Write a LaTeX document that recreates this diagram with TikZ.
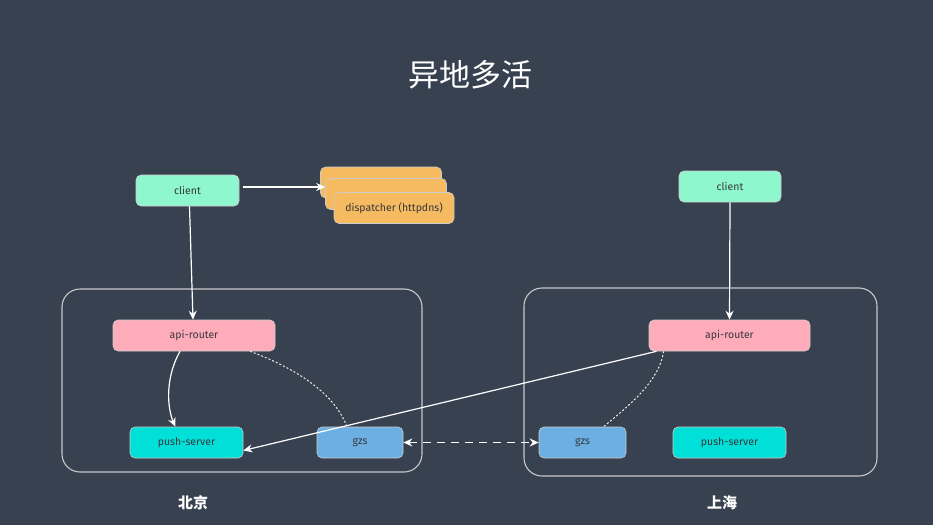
\documentclass[tikz,border=0pt]{standalone}
\usepackage{fontspec}
\setmainfont{Fira Sans}
\newfontfamily\cjk{Noto Sans CJK SC}
\usetikzlibrary{arrows.meta}
\definecolor{bg}{RGB}{56,65,80}
\definecolor{cgreen}{RGB}{142,247,205}
\definecolor{corange}{RGB}{246,186,96}
\definecolor{cpink}{RGB}{255,172,186}
\definecolor{ccyan}{RGB}{0,224,216}
\definecolor{cblue}{RGB}{108,175,226}
\definecolor{framec}{RGB}{200,200,200}
\definecolor{txt}{RGB}{55,55,60}
\tikzset{
  box/.style={draw=gray!40, line width=0.6pt, rounded corners=5pt, inner sep=0pt, text=txt, font=\fontsize{10.5}{12}\selectfont},
  region/.style={draw=framec, line width=1.1pt, rounded corners=18pt},
  conn/.style={draw=white, line width=1.2pt, -{Stealth[length=9pt,width=8pt]}},
  dots/.style={draw=white!85!gray, line width=1pt, dash pattern=on 2pt off 2pt},
  lbl/.style={text=white, font=\cjk\bfseries\fontsize{15}{16}\selectfont}
}
\begin{document}
\begin{tikzpicture}[x=1pt,y=-1pt]
\fill[bg] (0,0) rectangle (933,525);
\useasboundingbox (0,0) rectangle (933,525);
\node[text=white, font=\cjk\fontsize{31}{33}\selectfont] (title) at (470,75) {异地多活};
% regions
\draw[region] (62,289) rectangle (422,472);
\draw[region] (524,288) rectangle (877,476);
% left
\node[box, fill=cgreen, minimum width=103pt, minimum height=31pt] (clientL) at (187.5,190.5) {client};
\node[box, fill=corange, minimum width=121pt, minimum height=31pt] (d3) at (381,182.5) {};
\node[box, fill=corange, minimum width=121pt, minimum height=31pt] (d2) at (386,194) {};
\node[box, fill=corange, minimum width=120pt, minimum height=31pt] (d1) at (394,208) {dispatcher (httpdns)};
\node[box, fill=cpink, minimum width=162pt, minimum height=31pt] (arL) at (194,335.5) {api-router};
\node[box, fill=ccyan, minimum width=113pt, minimum height=31pt] (psL) at (186.5,442.5) {push-server};
\node[box, fill=cblue, minimum width=86pt, minimum height=31pt] (gzL) at (360,442.5) {gzs};
% right
\node[box, fill=cgreen, minimum width=102pt, minimum height=31pt] (clientR) at (730,186.5) {client};
\node[box, fill=cpink, minimum width=161pt, minimum height=31pt] (arR) at (729.5,335.5) {api-router};
\node[box, fill=cblue, minimum width=87pt, minimum height=31pt] (gzR) at (582.5,442.5) {gzs};
\node[box, fill=ccyan, minimum width=113pt, minimum height=31pt] (psR) at (729.5,442.5) {push-server};
% labels
\node[lbl] (bj) at (193,503) {北京};
\node[lbl] (sh) at (722,503) {上海};
% connectors
\coordinate (c1) at (243,187);
\draw[conn] (c1) -- (d2.west |- c1);
\draw[conn] ([xshift=2pt]clientL.south) -- ([xshift=-1pt]arL.north);
\draw[conn] ([xshift=-14pt]arL.south) .. controls (164,380) and (168,410) .. ([xshift=-11pt]psL.north);
\draw[dots] ([xshift=56pt]arL.south) .. controls (300,370) and (335,395) .. ([xshift=-13pt]gzL.north);
\draw[conn] (clientR.south) -- (arR.north);
\draw[conn] ([xshift=-73pt]arR.south) -- ([yshift=-8pt]psL.east);
\draw[dots] ([xshift=-66pt]arR.south) .. controls (660,380) and (630,405) .. ([xshift=21pt]gzR.north);
\draw[white, line width=1.4pt, dash pattern=on 8pt off 6pt, {Stealth[length=9pt,width=8pt]}-{Stealth[length=9pt,width=8pt]}] (gzL.east) -- (gzR.west);
\end{tikzpicture}
\end{document}
